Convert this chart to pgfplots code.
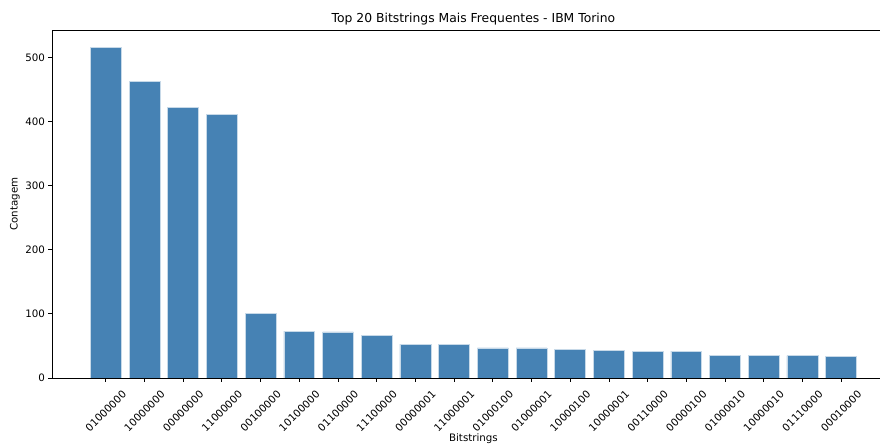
\documentclass[border=0pt]{standalone}
\usepackage{fontspec}
\setmainfont{DejaVu Sans}
\usepackage{pgfplots}
\usepackage{pgfplotstable}
\pgfplotsset{compat=1.18}
\definecolor{steelblue}{HTML}{4682B4}

% counts of the 20 most frequent bitstrings
\pgfplotstableread{
idx count
0 516
1 463
2 422
3 411
4 101
5 73
6 72
7 67
8 53
9 52
10 47
11 47
12 44
13 43
14 42
15 42
16 35
17 35
18 35
19 34
}\counts

\begin{document}
\begin{tikzpicture}
\path[use as bounding box, clip] (0,0) rectangle (880bp,444bp);
\begin{axis}[
  at={(52bp,66bp)}, anchor=south west,
  scale only axis, width=842.9bp, height=348bp,
  xmin=-1.39, xmax=20.39, ymin=0, ymax=542.85,
  font=\fontsize{10.3}{12}\selectfont,
  /pgf/number format/assume math mode=true,
  axis line style={black, line width=0.8bp},
  tick align=outside, major tick length=3.5bp,
  tick style={black, line width=0.8bp},
  xtick pos=lower, ytick pos=left,
  xtick={0,...,19},
  xticklabels={01000000,10000000,00000000,11000000,00100000,10100000,01100000,11100000,00000001,11000001,01000100,01000001,10000100,10000001,00110000,00000100,01000010,10000010,01110000,00010000},
  xticklabel style={yshift=-29.5bp, rotate=45, anchor=center},
  ytick={0,100,...,500},
  title={Top 20 Bitstrings Mais Frequentes - IBM Torino},
  title style={font=\fontsize{12.4}{14}\selectfont, inner sep=0pt, at={(axis description cs:0.5,1)}, anchor=south, yshift=-1.5bp},
  xlabel={Bitstrings},
  xlabel style={at={(axis description cs:0.5,-0.1744)}, anchor=center},
  ylabel={Contagem},
  ylabel style={at={(axis description cs:-0.0439,0.5)}, anchor=center},
]
\addplot[ybar, bar width=0.8, bar shift=0pt, fill=steelblue, draw=steelblue!30!white, line width=0.6bp] table[x=idx, y=count] {\counts};
\end{axis}
\end{tikzpicture}
\end{document}
